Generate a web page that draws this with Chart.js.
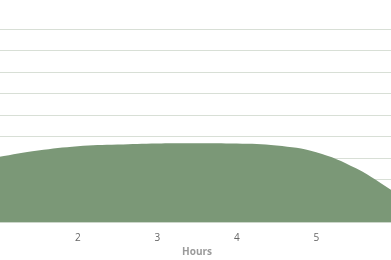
<!DOCTYPE html>
<html>
<head>
<meta charset="utf-8">
<script src="https://cdn.jsdelivr.net/npm/chart.js@4"></script>
<style>
  html, body { margin: 0; padding: 0; background: #fff; }
  #view { position: relative; width: 391px; height: 260px; overflow: hidden; }
  #wrap { position: absolute; left: -121px; top: 0; width: 636px; height: 260px; }
</style>
</head>
<body>
<div id="view"><div id="wrap"><canvas id="c" width="636" height="260"></canvas></div></div>
<script>
const hours = [1, 1.5, 2, 2.5, 3, 3.5, 4, 4.5, 5, 5.5, 6];
const values = [3.05, 3.35, 3.55, 3.63, 3.68, 3.69, 3.67, 3.58, 3.27, 2.52, 1.38];
const xTicks = [0, 1, 2, 3, 4, 5, 6, 7];
const xTitle = 'Hours';

const points = hours.map((h, i) => ({ x: h, y: values[i] }));

new Chart(document.getElementById('c'), {
  type: 'line',
  data: {
    datasets: [{
      data: points,
      fill: 'origin',
      backgroundColor: '#7b9877',
      borderColor: '#7b9877',
      borderWidth: 0,
      pointRadius: 0,
      tension: 0.4
    }]
  },
  options: {
    responsive: false,
    animation: false,
    layout: { padding: { top: 29, left: 0, right: 0, bottom: 0 } },
    plugins: { legend: { display: false }, tooltip: { enabled: false } },
    scales: {
      x: {
        type: 'linear',
        min: -0.5,
        max: 7.5,
        afterBuildTicks: (scale) => { scale.ticks = xTicks.map(v => ({ value: v })); },
        ticks: {
          padding: 10,
          color: '#666',
          font: { family: 'Open Sans', size: 10 }
        },
        grid: { display: false, drawTicks: false },
        border: { display: false },
        title: {
          display: true,
          text: xTitle,
          color: '#9a9a9a',
          font: { family: 'Open Sans', size: 10, weight: 'bold' },
          padding: { top: -8.5, bottom: 2 }
        }
      },
      y: {
        min: 0,
        max: 9,
        ticks: { stepSize: 1, display: false },
        grid: { color: '#d8dfd6', drawTicks: false },
        border: { display: false }
      }
    }
  }
});
</script>
</body>
</html>
